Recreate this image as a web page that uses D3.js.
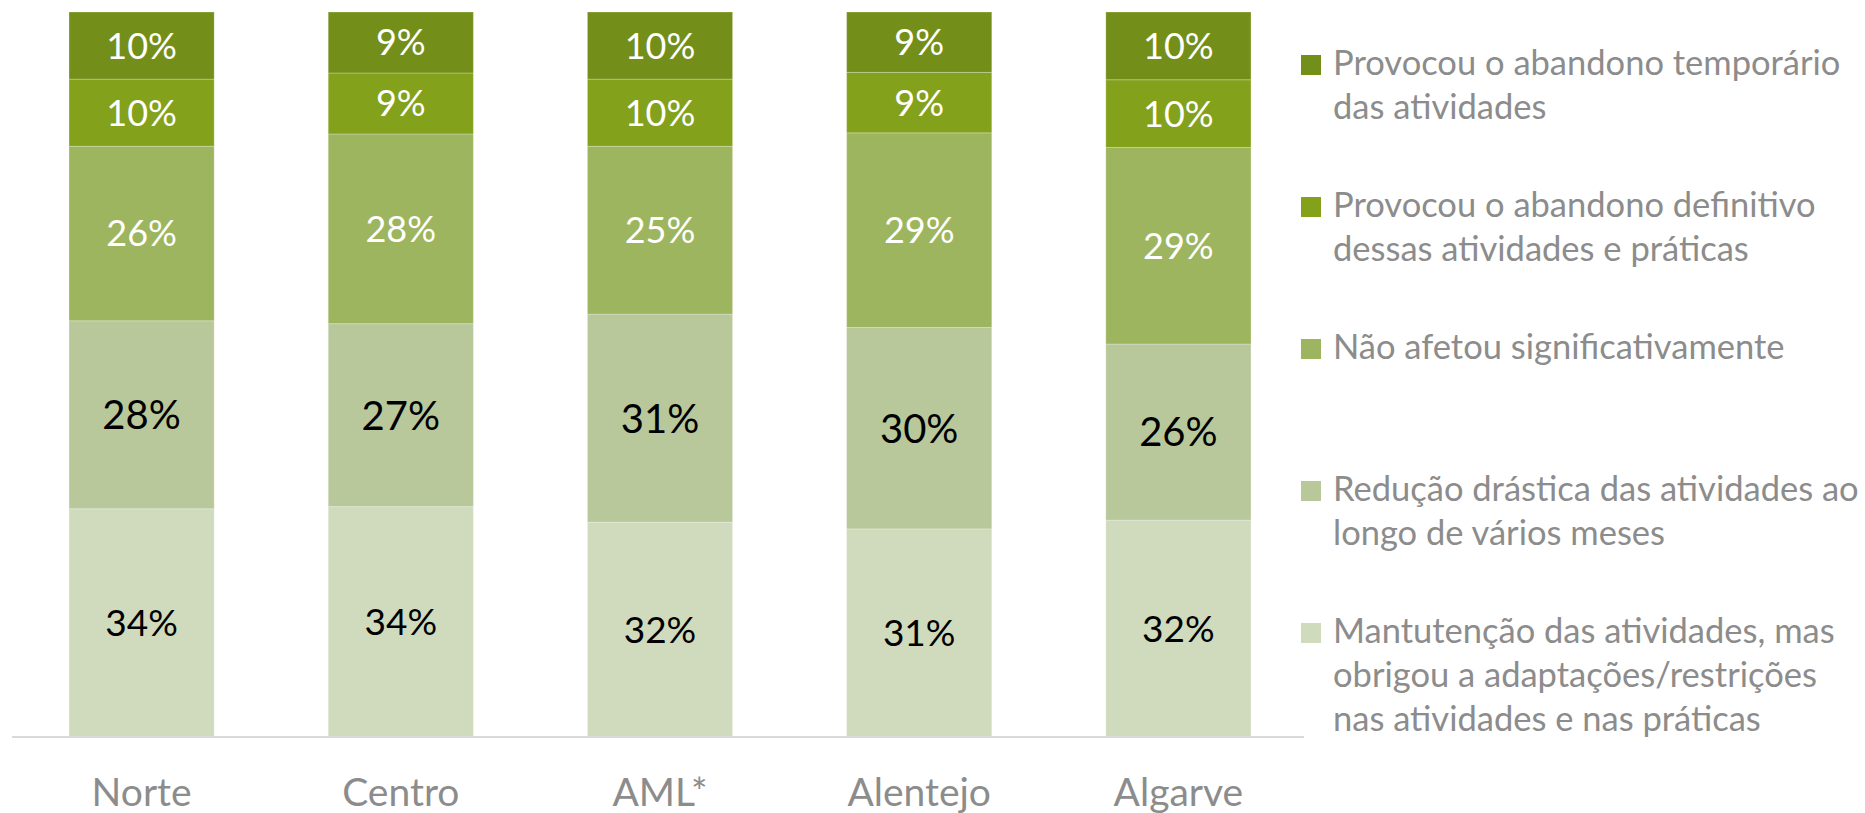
<!DOCTYPE html>
<html>
<head>
<meta charset="utf-8">
<script src="https://cdn.jsdelivr.net/npm/d3@7/dist/d3.min.js"></script>
<style>
  html, body { margin: 0; padding: 0; background: #fff; }
  svg { display: block; }
  text { font-family: Lato, "Open Sans", sans-serif; }
</style>
</head>
<body>
<svg id="chart" width="1865" height="813"></svg>
<script>
// ---- Data ----
const regions = ["Norte", "Centro", "AML*", "Alentejo", "Algarve"];

// series from bottom of the stack to top
const seriesKeys = ["manutencao", "reducao", "naoAfetou", "definitivo", "temporario"];

const manutencao = [34, 34, 32, 31, 32];
const reducao    = [28, 27, 31, 30, 26];
const naoAfetou  = [26, 28, 25, 29, 29];
const definitivo = [10, 9, 10, 9, 10];
const temporario = [10, 9, 10, 9, 10];

const legendLines = {
  temporario: ["Provocou o abandono temporário", "das atividades"],
  definitivo: ["Provocou o abandono definitivo", "dessas atividades e práticas"],
  naoAfetou:  ["Não afetou significativamente"],
  reducao:    ["Redução drástica das atividades ao", "longo de vários meses"],
  manutencao: ["Mantutenção das atividades, mas", "obrigou a adaptações/restrições", "nas atividades e nas práticas"]
};
const legendOrder = ["temporario", "definitivo", "naoAfetou", "reducao", "manutencao"];

// ---- Build table ----
const valuesByKey = { manutencao, reducao, naoAfetou, definitivo, temporario };
const table = regions.map((r, i) => {
  const row = { region: r };
  seriesKeys.forEach(k => row[k] = valuesByKey[k][i]);
  return row;
});

const colors = {
  temporario: "#748f19",
  definitivo: "#84a11b",
  naoAfetou:  "#9db55e",
  reducao:    "#b8c89a",
  manutencao: "#d0dbbd"
};
const labelColors = {
  temporario: "#ffffff",
  definitivo: "#ffffff",
  naoAfetou:  "#ffffff",
  reducao:    "#000000",
  manutencao: "#000000"
};
const labelSizes = {
  temporario: 36,
  definitivo: 36,
  naoAfetou:  36,
  reducao:    40,
  manutencao: 37
};

const svg = d3.select("#chart");

const x = d3.scaleBand()
  .domain(regions)
  .range([12, 1308])
  .paddingInner(0.44)
  .paddingOuter(0.22);

const y = d3.scaleLinear().domain([0, 1]).range([737, 12]);

const stack = d3.stack().keys(seriesKeys).offset(d3.stackOffsetExpand);
const stacked = stack(table);

// bars
const layers = svg.append("g").selectAll("g")
  .data(stacked)
  .join("g")
  .attr("fill", d => colors[d.key]);

layers.selectAll("rect")
  .data(d => d.map(v => ({ v, key: d.key })))
  .join("rect")
  .attr("x", d => x(d.v.data.region))
  .attr("width", x.bandwidth())
  .attr("y", d => y(d.v[1]))
  .attr("height", d => y(d.v[0]) - y(d.v[1]))
  .attr("stroke", "#ffffff")
  .attr("stroke-opacity", 0.25)
  .attr("stroke-width", 1);

// data labels
layers.selectAll("text")
  .data(d => d.map(v => ({ v, key: d.key })))
  .join("text")
  .attr("x", d => x(d.v.data.region) + x.bandwidth() / 2)
  .attr("y", d => (y(d.v[0]) + y(d.v[1])) / 2)
  .attr("dy", "0.36em")
  .attr("text-anchor", "middle")
  .attr("font-size", d => labelSizes[d.key])
  .attr("fill", d => labelColors[d.key])
  .text(d => d.v.data[d.key] + "%");

// x axis
const xAxis = d3.axisBottom(x).tickSize(0).tickPadding(0);
const gx = svg.append("g")
  .attr("transform", "translate(0,737)")
  .call(xAxis);
gx.select(".domain")
  .attr("stroke", "#d9d9d9")
  .attr("stroke-width", 2)
  .attr("d", "M12,0H1304");
gx.selectAll(".tick text")
  .attr("font-family", "Lato, 'Open Sans', sans-serif")
  .attr("font-size", 39)
  .attr("fill", "#8c8c8c")
  .attr("dy", null)
  .attr("y", 69);

// legend
const legend = svg.append("g");
const legendItems = legend.selectAll("g")
  .data(legendOrder)
  .join("g")
  .attr("transform", (d, i) => `translate(1301, ${65 + i * 142})`);

legendItems.append("rect")
  .attr("x", 0)
  .attr("y", -10)
  .attr("width", 20)
  .attr("height", 20)
  .attr("fill", d => colors[d]);

legendItems.each(function(k) {
  const g = d3.select(this);
  legendLines[k].forEach((line, j) => {
    g.append("text")
      .attr("x", 32)
      .attr("y", 10 + j * 44)
      .attr("font-size", 34.5)
      .attr("fill", "#8c8c8c")
      .text(line);
  });
});
</script>
</body>
</html>
